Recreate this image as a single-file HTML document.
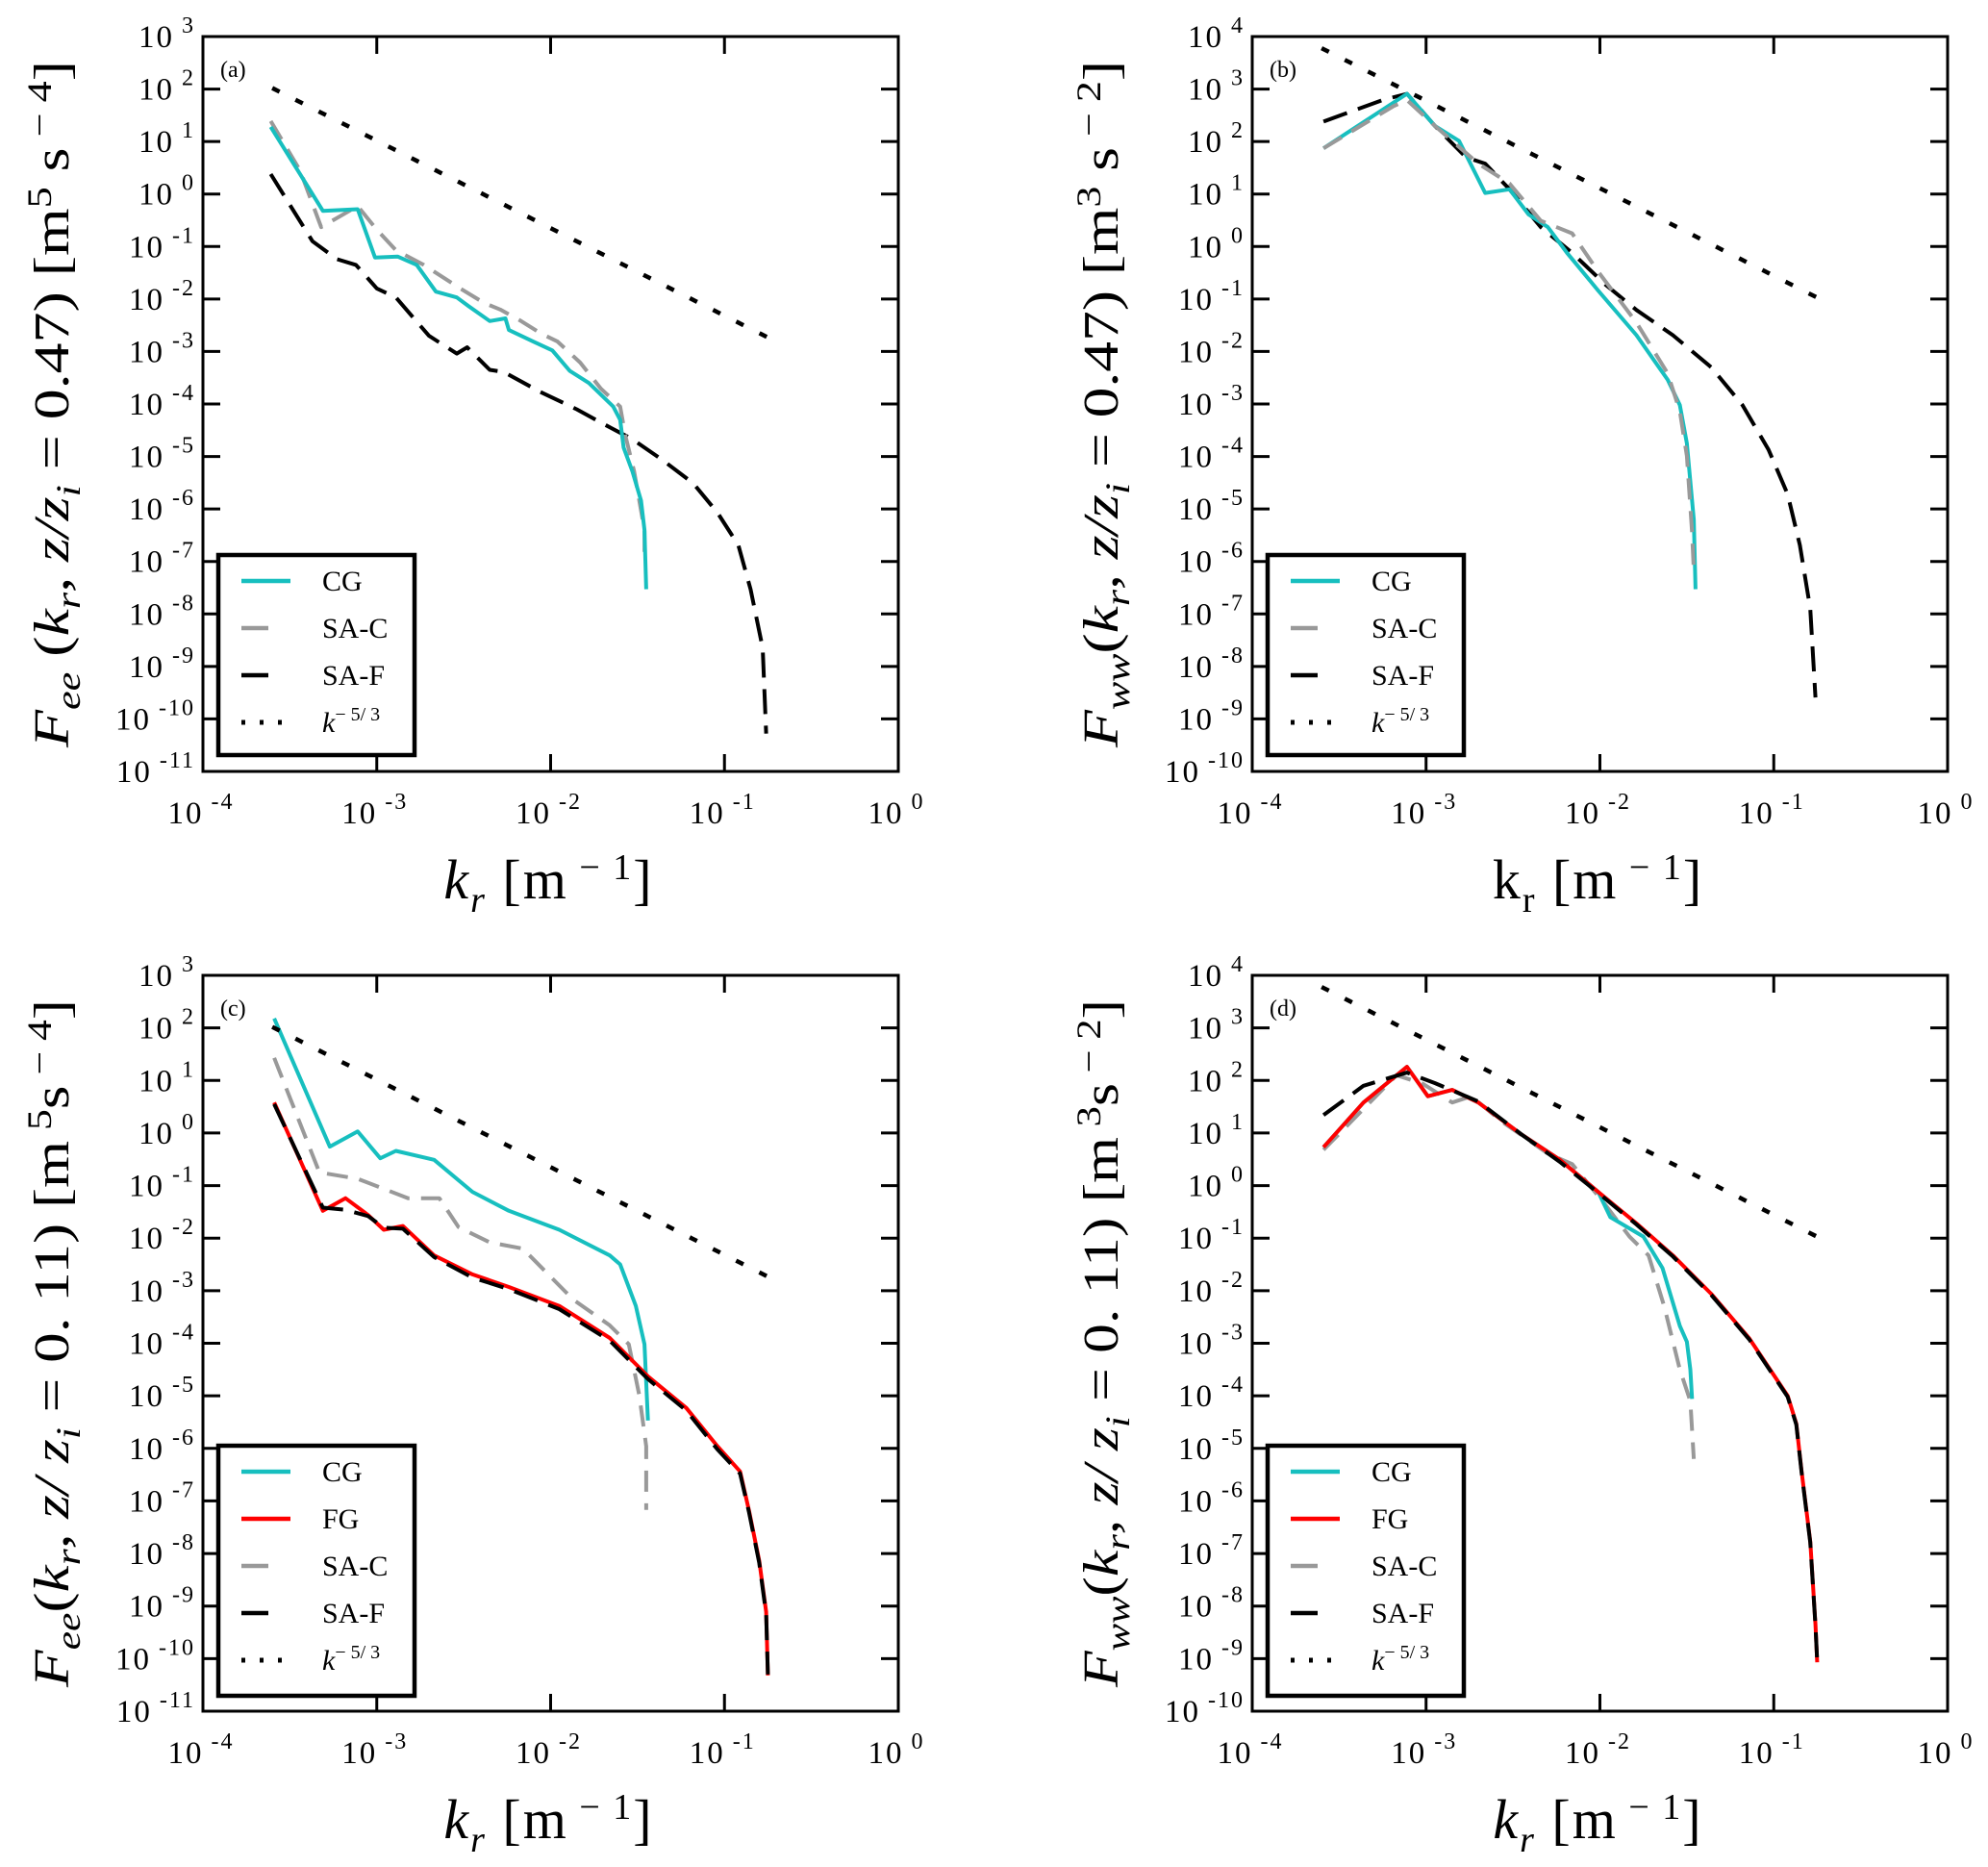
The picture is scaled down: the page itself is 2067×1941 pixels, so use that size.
<!DOCTYPE html>
<html><head><meta charset="utf-8">
<style>
html,body{margin:0;padding:0;background:#fff;}
svg{display:block;font-family:"Liberation Serif","DejaVu Serif",serif;}
</style></head>
<body>
<svg id="fig" width="2067" height="1941" viewBox="0 0 2067 1941" xmlns="http://www.w3.org/2000/svg"></svg>
<script>
// ---- data (log10 k, log10 F) ----
const aCG_k=[-3.61,-3.31,-3.11,-3.01,-2.88,-2.77,-2.66,-2.54,-2.47,-2.35,-2.26,-2.24,-2.10,-1.99,-1.89,-1.78,-1.64,-1.60,-1.58,-1.53,-1.48,-1.46,-1.45];
const aCG_F=[1.28,-0.32,-0.29,-1.21,-1.19,-1.35,-1.86,-1.97,-2.14,-2.42,-2.37,-2.59,-2.81,-2.98,-3.37,-3.60,-4.05,-4.30,-4.83,-5.28,-5.84,-6.40,-7.53];
const aSAC_k=[-3.61,-3.44,-3.32,-3.11,-3.00,-2.89,-2.73,-2.52,-2.38,-2.29,-2.17,-2.06,-1.96,-1.83,-1.71,-1.60,-1.57,-1.52,-1.46,-1.46];
const aSAC_F=[1.39,0.44,-0.63,-0.23,-0.68,-1.07,-1.35,-1.80,-2.08,-2.20,-2.42,-2.65,-2.81,-3.21,-3.71,-4.05,-4.60,-5.28,-6.40,-6.97];
const aSAF_k=[-3.61,-3.37,-3.23,-3.12,-3.00,-2.89,-2.70,-2.54,-2.48,-2.35,-2.27,-2.06,-1.85,-1.69,-1.53,-1.36,-1.18,-1.04,-0.92,-0.85,-0.78,-0.76];
const aSAF_F=[0.38,-0.90,-1.24,-1.35,-1.80,-1.97,-2.70,-3.04,-2.92,-3.35,-3.39,-3.77,-4.10,-4.39,-4.67,-5.06,-5.51,-6.07,-6.69,-7.53,-8.65,-10.28];

const bCG_k=[-3.59,-3.11,-2.95,-2.81,-2.66,-2.52,-2.41,-2.30,-2.19,-2.01,-1.79,-1.61,-1.54,-1.50,-1.46,-1.45];
const bCG_F=[1.87,2.91,2.30,2.01,1.02,1.09,0.61,0.37,-0.12,-0.84,-1.69,-2.54,-3.02,-3.75,-5.20,-6.53];
const bSAC_k=[-3.59,-3.19,-3.11,-2.95,-2.70,-2.52,-2.34,-2.16,-2.01,-1.79,-1.61,-1.54,-1.50,-1.47,-1.46];
const bSAC_F=[1.87,2.67,2.79,2.30,1.58,1.20,0.49,0.25,-0.48,-1.45,-2.42,-3.14,-3.99,-5.44,-6.17];
const bSAF_k=[-3.59,-3.25,-3.11,-2.95,-2.77,-2.66,-2.52,-2.34,-2.16,-1.97,-1.79,-1.58,-1.36,-1.18,-1.03,-0.92,-0.85,-0.79,-0.76];
const bSAF_F=[2.38,2.79,2.91,2.30,1.70,1.58,1.09,0.37,-0.12,-0.72,-1.21,-1.69,-2.30,-3.02,-3.87,-4.72,-5.69,-6.90,-8.59];

const cCG_k=[-3.59,-3.27,-3.11,-2.98,-2.89,-2.67,-2.45,-2.24,-1.95,-1.66,-1.60,-1.51,-1.46,-1.44];
const cCG_F=[2.18,-0.26,0.03,-0.48,-0.34,-0.51,-1.12,-1.48,-1.84,-2.33,-2.50,-3.29,-4.02,-5.47];
const cFG_k=[-3.59,-3.31,-3.18,-3.05,-2.96,-2.85,-2.67,-2.45,-2.24,-1.95,-1.66,-1.44,-1.22,-1.04,-0.91,-0.86,-0.80,-0.76,-0.75];
const cFG_F=[0.58,-1.48,-1.24,-1.56,-1.84,-1.77,-2.33,-2.69,-2.93,-3.29,-3.90,-4.63,-5.23,-5.96,-6.44,-7.17,-8.14,-9.11,-10.32];
const cSAC_k=[-3.59,-3.33,-3.11,-2.82,-2.64,-2.53,-2.35,-2.16,-1.87,-1.66,-1.55,-1.49,-1.45,-1.45];
const cSAC_F=[1.43,-0.75,-0.87,-1.24,-1.24,-1.79,-2.08,-2.20,-3.17,-3.66,-4.02,-4.99,-5.96,-7.17];
const cSAF_k=[-3.59,-3.31,-3.18,-3.05,-2.96,-2.85,-2.67,-2.45,-2.24,-1.95,-1.66,-1.44,-1.22,-1.04,-0.91,-0.86,-0.80,-0.76,-0.75];
const cSAF_F=[0.55,-1.42,-1.46,-1.58,-1.80,-1.82,-2.36,-2.75,-2.97,-3.35,-3.95,-4.68,-5.28,-6.02,-6.48,-7.20,-8.18,-9.15,-10.30];

const dCG_k=[-3.59,-3.36,-3.11,-2.99,-2.85,-2.70,-2.45,-2.23,-2.01,-1.94,-1.75,-1.64,-1.54,-1.50,-1.48,-1.47];
const dCG_F=[0.73,1.58,2.26,1.70,1.82,1.58,0.97,0.49,-0.12,-0.60,-0.97,-1.57,-2.67,-2.97,-3.50,-4.06];
const dFG_k=[-3.59,-3.36,-3.11,-2.99,-2.85,-2.70,-2.45,-2.23,-2.01,-1.79,-1.58,-1.36,-1.14,-0.92,-0.87,-0.84,-0.79,-0.76,-0.75];
const dFG_F=[0.73,1.58,2.26,1.70,1.82,1.58,0.97,0.49,-0.12,-0.72,-1.33,-2.06,-2.91,-4.00,-4.53,-5.44,-6.77,-8.35,-9.07];
const dSAC_k=[-3.59,-3.17,-3.02,-2.85,-2.74,-2.56,-2.30,-2.16,-1.97,-1.83,-1.72,-1.63,-1.54,-1.48,-1.46];
const dSAC_F=[0.68,2.10,1.94,1.58,1.70,1.21,0.61,0.41,-0.36,-0.97,-1.33,-2.30,-3.50,-4.10,-5.20];
const dSAF_k=[-3.59,-3.36,-3.11,-2.95,-2.70,-2.45,-2.23,-2.01,-1.79,-1.58,-1.36,-1.14,-0.92,-0.87,-0.84,-0.79,-0.76,-0.75];
const dSAF_F=[1.34,1.90,2.15,1.95,1.60,0.97,0.45,-0.14,-0.74,-1.35,-2.08,-2.93,-4.02,-4.55,-5.46,-6.79,-8.37,-9.05];

const refK=[-3.59,-0.76];            // k^-5/3 line endpoints (log10 k)
const refA_F0=2.0, refB_F0=3.76;      // log10 F at first point
const xTicks=[-4,-3,-2,-1,0];

const NS="http://www.w3.org/2000/svg";
const svg=document.getElementById('fig');
function el(tag,attrs,parent){const e=document.createElementNS(NS,tag);for(const k in attrs)e.setAttribute(k,attrs[k]);(parent||svg).appendChild(e);return e;}

const STY={
 cg:{stroke:'#17bfbf',dash:null,w:4},
 fg:{stroke:'#ff0000',dash:null,w:4},
 sac:{stroke:'#999999',dash:'22,12',w:4},
 saf:{stroke:'#000000',dash:'26,12',w:4},
 ref:{stroke:'#000000',dash:'4,23',w:4.5}
};

function panel(o){
 const g=el('g',{});
 
 
 const L=o.x0,R=o.x1,T=o.y0,B=o.y1;
 const sx=v=>L+(v-(-4))/4*(R-L);
 const sy=v=>T+(o.yMax-v)/(o.yMax-o.yMin)*(B-T);
 o.series.forEach(s=>{
  const st=STY[s.sty];
  const d=s.k.map((k,i)=>(i?'L':'M')+sx(k).toFixed(1)+','+sy(s.F[i]).toFixed(1)).join(' ');
  const p=el('path',{d:d,fill:'none',stroke:st.stroke,'stroke-width':st.w,'stroke-linejoin':'round'},g);
  if(st.dash)p.setAttribute('stroke-dasharray',st.dash);
  
  
 });
 const rf0=o.refF0, rf1=o.refF0-5/3*(refK[1]-refK[0]);
 const rl=el('line',{x1:sx(refK[0]),y1:sy(rf0),x2:sx(refK[1]),y2:sy(rf1),stroke:'#000','stroke-width':4.5,'stroke-dasharray':'4,23','stroke-linecap':'square'},g);
 
 
 const fr=el('rect',{x:L,y:T,width:R-L,height:B-T,fill:'none',stroke:'#000','stroke-width':3},g);
 
 
 for(let v=o.yMax;v>=o.yMin;v--){
  const y=sy(v);
  el('line',{x1:L,y1:y,x2:L+18,y2:y,stroke:'#000','stroke-width':3},g);
  el('line',{x1:R,y1:y,x2:R-18,y2:y,stroke:'#000','stroke-width':3},g);
  const t=el('text',{x:L-8,y:y+11,'font-size':33,'text-anchor':'end','letter-spacing':'2'},g);
  
  
  t.appendChild(document.createTextNode('10'));
  const sp=el('tspan',{dy:-15,'font-size':24},t);sp.textContent=' '+v;
 }
 xTicks.forEach(v=>{
  const x=sx(v);
  el('line',{x1:x,y1:B,x2:x,y2:B-18,stroke:'#000','stroke-width':3},g);
  el('line',{x1:x,y1:T,x2:x,y2:T+18,stroke:'#000','stroke-width':3},g);
  const t=el('text',{x:x-2,y:B+54,'font-size':33,'text-anchor':'middle','letter-spacing':'2'},g);
  
  
  t.appendChild(document.createTextNode('10'));
  const sp=el('tspan',{dy:-15,'font-size':24},t);sp.textContent=' '+v;
 });
 const pl=el('text',{x:L+18,y:T+42,'font-size':24},g);pl.textContent='('+o.id+')';
 
 
 const xl=el('text',{x:(L+R)/2-2,y:B+132,'font-size':58,'text-anchor':'middle','letter-spacing':'2'},g);
 
 
 xl.innerHTML=o.xlab;
 const yl=el('text',{x:0,y:0,'font-size':52,'text-anchor':'middle',transform:`translate(${L-140},${(T+B)/2}) rotate(-90)`,textLength:B-T-50,lengthAdjust:'spacingAndGlyphs'},g);
 
 
 yl.innerHTML=o.ylab;
 const lx=L+16, ly=o.legTop, lh=o.legH;
 const lg=el('g',{},g);
 
 
 el('rect',{x:lx,y:ly,width:204,height:lh,fill:'#fff',stroke:'#000','stroke-width':4.5},lg);
 o.legend.forEach((e,i)=>{
  const y=ly+27+i*49;
  const st=STY[e.sty];
  const len=(e.sty==='cg'||e.sty==='fg')?51:(e.sty==='ref'?42:28);
  const ln=el('line',{x1:lx+24,y1:y,x2:lx+24+len,y2:y,stroke:st.stroke,'stroke-width':st.w+0.5},lg);
  if(e.sty==='ref'){ln.setAttribute('stroke-dasharray','4,15');ln.setAttribute('stroke-width',5);}
  const t=el('text',{x:lx+108,y:y+10,'font-size':30},lg);
  
  
  t.innerHTML=e.label;
 });
}

const kLab='<tspan font-style="italic">k</tspan><tspan font-style="italic" font-size="38" dy="14">r</tspan><tspan dy="-14">  [m</tspan><tspan font-size="38" dy="-20"> − 1</tspan><tspan dy="20">]</tspan>';
const kLabB='k<tspan font-size="38" dy="14">r</tspan><tspan dy="-14">  [m</tspan><tspan font-size="38" dy="-20"> − 1</tspan><tspan dy="20">]</tspan>';
const k53='<tspan font-style="italic">k</tspan><tspan font-size="20" dy="-12">− 5/ 3</tspan>';
const leg4=[{sty:'cg',label:'CG'},{sty:'sac',label:'SA-C'},{sty:'saf',label:'SA-F'},{sty:'ref',label:k53}];
const leg5=[{sty:'cg',label:'CG'},{sty:'fg',label:'FG'},{sty:'sac',label:'SA-C'},{sty:'saf',label:'SA-F'},{sty:'ref',label:k53}];

panel({id:'a',x0:211,x1:934,y0:38,y1:802,yMax:3,yMin:-11,refF0:refA_F0,xlab:kLab,
 ylab:'<tspan font-style="italic">F</tspan><tspan font-style="italic" font-size="36" dy="12">ee</tspan><tspan dy="-12"> (</tspan><tspan font-style="italic">k</tspan><tspan font-style="italic" font-size="36" dy="12">r</tspan><tspan dy="-12" font-style="italic">,  z/z</tspan><tspan font-style="italic" font-size="36" dy="12">i</tspan><tspan dy="-12">  =  0.47) [m</tspan><tspan font-size="36" dy="-18">5</tspan><tspan dy="18"> s</tspan><tspan font-size="36" dy="-18"> − 4</tspan><tspan dy="18">]</tspan>',
 legTop:577,legH:208,legend:leg4,
 series:[{name:'sa-f',sty:'saf',k:aSAF_k,F:aSAF_F},{name:'sa-c',sty:'sac',k:aSAC_k,F:aSAC_F},{name:'cg',sty:'cg',k:aCG_k,F:aCG_F}]});
panel({id:'b',x0:1302,x1:2025,y0:38,y1:802,yMax:4,yMin:-10,refF0:refB_F0,xlab:kLabB,
 ylab:'<tspan font-style="italic">F</tspan><tspan font-style="italic" font-size="36" dy="12">ww</tspan><tspan dy="-12">(</tspan><tspan font-style="italic">k</tspan><tspan font-style="italic" font-size="36" dy="12">r</tspan><tspan dy="-12" font-style="italic">,  z/z</tspan><tspan font-style="italic" font-size="36" dy="12">i</tspan><tspan dy="-12">  =  0.47) [m</tspan><tspan font-size="36" dy="-18">3</tspan><tspan dy="18"> s</tspan><tspan font-size="36" dy="-18"> − 2</tspan><tspan dy="18">]</tspan>',
 legTop:577,legH:208,legend:leg4,
 series:[{name:'sa-f',sty:'saf',k:bSAF_k,F:bSAF_F},{name:'cg',sty:'cg',k:bCG_k,F:bCG_F},{name:'sa-c',sty:'sac',k:bSAC_k,F:bSAC_F}]});
panel({id:'c',x0:211,x1:934,y0:1014,y1:1779,yMax:3,yMin:-11,refF0:refA_F0,xlab:kLab,
 ylab:'<tspan font-style="italic">F</tspan><tspan font-style="italic" font-size="36" dy="12">ee</tspan><tspan dy="-12">(</tspan><tspan font-style="italic">k</tspan><tspan font-style="italic" font-size="36" dy="12">r</tspan><tspan dy="-12" font-style="italic">, z/ z</tspan><tspan font-style="italic" font-size="36" dy="12">i</tspan><tspan dy="-12"> =  0. 11) [m</tspan><tspan font-size="36" dy="-18"> 5</tspan><tspan dy="18">s</tspan><tspan font-size="36" dy="-18"> − 4</tspan><tspan dy="18">]</tspan>',
 legTop:1503,legH:260,legend:leg5,
 series:[{name:'sa-c',sty:'sac',k:cSAC_k,F:cSAC_F},{name:'cg',sty:'cg',k:cCG_k,F:cCG_F},{name:'fg',sty:'fg',k:cFG_k,F:cFG_F},{name:'sa-f',sty:'saf',k:cSAF_k,F:cSAF_F}]});
panel({id:'d',x0:1302,x1:2025,y0:1014,y1:1779,yMax:4,yMin:-10,refF0:refB_F0,xlab:kLab,
 ylab:'<tspan font-style="italic">F</tspan><tspan font-style="italic" font-size="36" dy="12">ww</tspan><tspan dy="-12">(</tspan><tspan font-style="italic">k</tspan><tspan font-style="italic" font-size="36" dy="12">r</tspan><tspan dy="-12" font-style="italic">, z/ z</tspan><tspan font-style="italic" font-size="36" dy="12">i</tspan><tspan dy="-12"> =  0. 11) [m</tspan><tspan font-size="36" dy="-18"> 3</tspan><tspan dy="18">s</tspan><tspan font-size="36" dy="-18"> − 2</tspan><tspan dy="18">]</tspan>',
 legTop:1503,legH:260,legend:leg5,
 series:[{name:'sa-c',sty:'sac',k:dSAC_k,F:dSAC_F},{name:'cg',sty:'cg',k:dCG_k,F:dCG_F},{name:'fg',sty:'fg',k:dFG_k,F:dFG_F},{name:'sa-f',sty:'saf',k:dSAF_k,F:dSAF_F}]});
</script>
</body></html>
